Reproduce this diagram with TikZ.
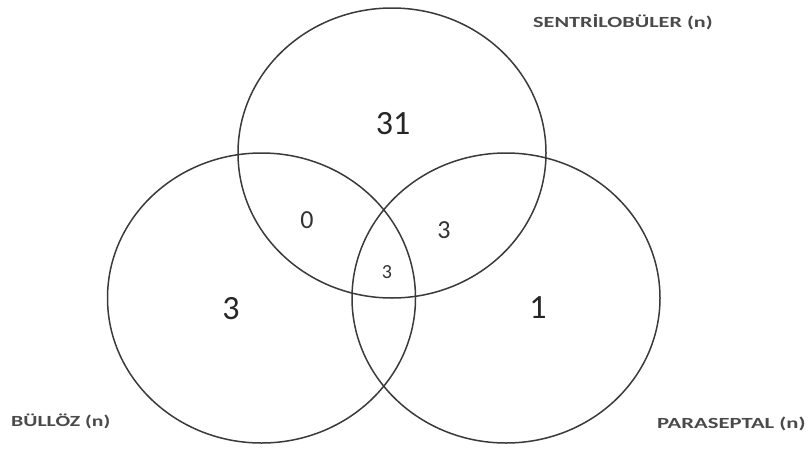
\documentclass[tikz,border=0pt]{standalone}
\usepackage{fontspec}
\setmainfont{Carlito}
\usetikzlibrary{shapes.geometric}
\definecolor{linecol}{HTML}{3A3A3A}
\definecolor{labcol}{HTML}{4A4A4A}
\begin{document}
\begin{tikzpicture}[x=1pt,y=-1pt,
  setcircle/.style={ellipse,draw=linecol,line width=1.5pt,inner sep=0pt,minimum width=308pt,minimum height=290pt},
  bignum/.style={font=\fontsize{34}{34}\selectfont,text=black!85,inner sep=0pt},
  midnum/.style={font=\fontsize{26}{26}\selectfont,text=black!80,inner sep=0pt},
  smallnum/.style={font=\fontsize{20}{20}\selectfont,text=black!80,inner sep=0pt},
  setlabel/.style={font=\fontsize{15.5}{15.5}\selectfont\bfseries,text=labcol,inner sep=0pt,anchor=base west}]
\useasboundingbox (0,0) rectangle (811,450);
\node[setcircle] (sen) at (392,153) {};
\node[setcircle] (bul) at (261.5,298) {};
\node[setcircle] (par) at (506,298) {};
\node[bignum] (n31) at (393,124) {31};
\node[bignum] (nb) at (231,309) {3};
\node[bignum] (np) at (538,308) {1};
\node[midnum] (nsb) at (307,220) {0};
\node[midnum] (nsp) at (444,230) {3};
\node[smallnum] (nall) at (387,272) {3};
\node[setlabel] (lsen) at (533,27) {\scalebox{1.43}[1]{SENTRİLOBÜLER (n)}};
\node[setlabel] (lbul) at (11,426) {\scalebox{1.4}[1]{BÜLLÖZ (n)}};
\node[setlabel] (lpar) at (657,428) {\scalebox{1.46}[1]{PARASEPTAL (n)}};
\end{tikzpicture}
\end{document}
